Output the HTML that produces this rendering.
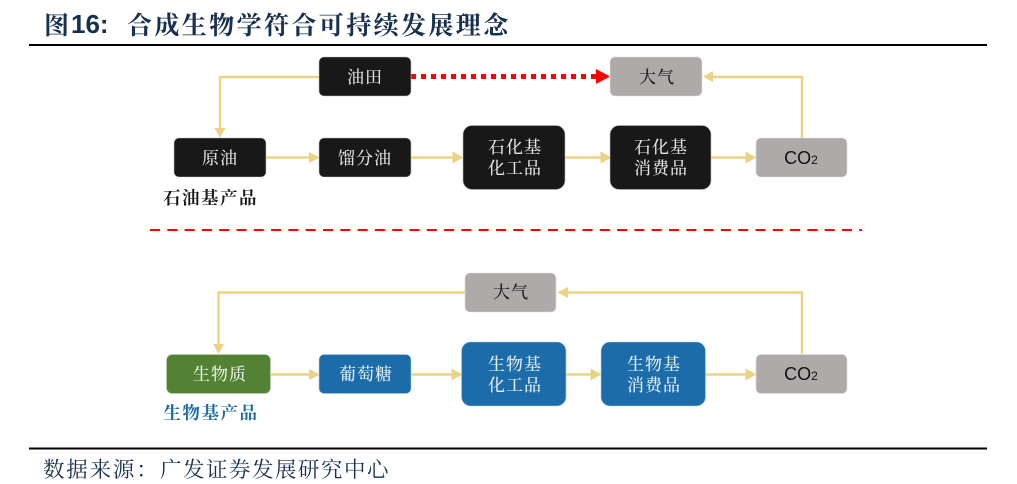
<!DOCTYPE html>
<html lang="zh"><head><meta charset="utf-8">
<style>
html,body{margin:0;padding:0;background:#fff;width:1017px;height:484px;overflow:hidden}
svg{display:block}
text{font-family:"Liberation Serif","Noto Serif CJK SC",serif;text-anchor:middle}
.w{fill:#e2e2e2;font-size:17px;letter-spacing:1px;font-weight:500}
.k{fill:#1a1a1a;font-size:17px;letter-spacing:1px;font-weight:500}
.l{stroke:#ebd385;stroke-width:2.4;fill:none}
.a{fill:#ebd385}
.co{font-family:"Liberation Sans",sans-serif;font-size:18px;fill:#111}
</style></head><body>
<svg width="1017" height="484" viewBox="0 0 1017 484" xmlns="http://www.w3.org/2000/svg">
<text x="44" y="34" style="text-anchor:start;font-family:'Noto Serif CJK SC',serif;font-size:25px;font-weight:bold" fill="#17304f">图</text>
<text x="71" y="33" style="text-anchor:start;font-family:'Liberation Sans',sans-serif;font-size:26px;font-weight:bold" fill="#17304f">16:</text>
<text x="127" y="34" style="text-anchor:start;font-family:'Noto Serif CJK SC',serif;font-size:25px;font-weight:bold;letter-spacing:2.400px" fill="#17304f">合成生物学符合可持续发展理念</text>
<rect x="29" y="44" width="958" height="2" fill="#000"/>
<rect x="29" y="447.5" width="958" height="2" fill="#000"/>

<!-- top connectors -->
<path class="l" d="M320 77H220V130"/><path class="a" d="M214.500 128h11l-5.500 10z"/>
<path class="l" d="M266 157.500H310"/><path class="a" d="M309 152l11 5.500-11 5.500z"/>
<path class="l" d="M411 157.500H453"/><path class="a" d="M452.500 151.500l11 6-11 6z"/>
<path class="l" d="M565 157.500H601"/><path class="a" d="M600.500 151.500l11 6-11 6z"/>
<path class="l" d="M711 157.500H746"/><path class="a" d="M745.500 151.500l11 6-11 6z"/>
<path class="l" d="M802 138V77H712"/><path class="a" d="M713 71v11l-10-5.500z"/>
<path d="M411 76.500H596" stroke="#f00" stroke-width="5" stroke-dasharray="5 5" fill="none"/>
<path d="M596 69l14 7.500-14 7.500z" fill="#f00"/>

<!-- top boxes -->
<rect x="319" y="57" width="92" height="39" rx="5" fill="#181818" stroke="#bbb" stroke-width=".6"/>
<rect x="174" y="138" width="92" height="39" rx="5" fill="#181818" stroke="#bbb" stroke-width=".6"/>
<rect x="319" y="138" width="92" height="39" rx="5" fill="#181818" stroke="#bbb" stroke-width=".6"/>
<rect x="463" y="125.500" width="102" height="64" rx="9" fill="#181818" stroke="#bbb" stroke-width=".6"/>
<rect x="610" y="125.500" width="101" height="64" rx="9" fill="#181818" stroke="#bbb" stroke-width=".6"/>
<rect x="610" y="57" width="92" height="39" rx="5" fill="#aeaaa9" stroke="#ddd" stroke-width=".6"/>
<rect x="756" y="138" width="91" height="39" rx="5" fill="#aeaaa9" stroke="#ddd" stroke-width=".6"/>
<text class="w" x="365" y="83">油田</text>
<text class="w" x="220" y="164">原油</text>
<text class="w" x="365" y="164">馏分油</text>
<text class="w" x="515" y="153">石化基</text>
<text class="w" x="515" y="174">化工品</text>
<text class="w" x="661" y="153">石化基</text>
<text class="w" x="661" y="174">消费品</text>
<text class="k" x="657" y="83">大气</text>
<text class="co" x="801" y="164">CO<tspan font-size="12">2</tspan></text>
<text x="210.500" y="204" style="font-size:17.500px;font-weight:bold;letter-spacing:1.500px" fill="#1a1a1a">石油基产品</text>

<path d="M150 230H862" stroke="#f00" stroke-width="2" stroke-dasharray="10 7.300" fill="none"/>

<!-- bottom connectors -->
<path class="l" d="M466 292.500H218.500V346"/><path class="a" d="M213 344h11l-5.500 10z"/>
<path class="l" d="M271 374.500H310"/><path class="a" d="M309 369l11 5.500-11 5.500z"/>
<path class="l" d="M411 374.500H452"/><path class="a" d="M451.500 368.500l11 6-11 6z"/>
<path class="l" d="M566 374.500H592"/><path class="a" d="M590.500 368.500l11 6-11 6z"/>
<path class="l" d="M705 374.500H747"/><path class="a" d="M745.500 368.500l11 6-11 6z"/>
<path class="l" d="M802 354V292.500H567"/><path class="a" d="M568 287v11l-11-5.500z"/>

<!-- bottom boxes -->
<rect x="465" y="273" width="91" height="39" rx="5" fill="#aeaaa9" stroke="#ddd" stroke-width=".6"/>
<rect x="166.500" y="354.500" width="104" height="39" rx="5.500" fill="#548235" stroke="#c5d5b5" stroke-width=".6"/>
<rect x="319" y="354.500" width="92" height="39" rx="5" fill="#1b6ca8" stroke="#b5cfe2" stroke-width=".6"/>
<rect x="461.500" y="342" width="104.500" height="64" rx="9" fill="#1b6ca8" stroke="#b5cfe2" stroke-width=".6"/>
<rect x="601" y="342" width="104.500" height="64" rx="9" fill="#1b6ca8" stroke="#b5cfe2" stroke-width=".6"/>
<rect x="756" y="354.500" width="91" height="39" rx="5" fill="#aeaaa9" stroke="#ddd" stroke-width=".6"/>
<text class="k" x="511" y="298">大气</text>
<text class="w" x="220" y="380" style="fill:#e8efe0">生物质</text>
<text class="w" x="366" y="380" style="fill:#e4eef6">葡萄糖</text>
<text class="w" x="515" y="370" style="fill:#e4eef6">生物基</text>
<text class="w" x="515" y="391" style="fill:#e4eef6">化工品</text>
<text class="w" x="654" y="370" style="fill:#e4eef6">生物基</text>
<text class="w" x="654" y="391" style="fill:#e4eef6">消费品</text>
<text class="co" x="801" y="380">CO<tspan font-size="12">2</tspan></text>
<text x="211" y="419" style="font-size:17.500px;font-weight:bold;letter-spacing:1.500px" fill="#1b6ca8">生物基产品</text>

<text x="43" y="477" style="text-anchor:start;font-size:21.500px;letter-spacing:1.800px" fill="#17304f">数据来源：</text>
<text x="160" y="477" style="text-anchor:start;font-size:21.500px;letter-spacing:1.500px" fill="#17304f">广发证券发展研究中心</text>
</svg>
</body></html>
